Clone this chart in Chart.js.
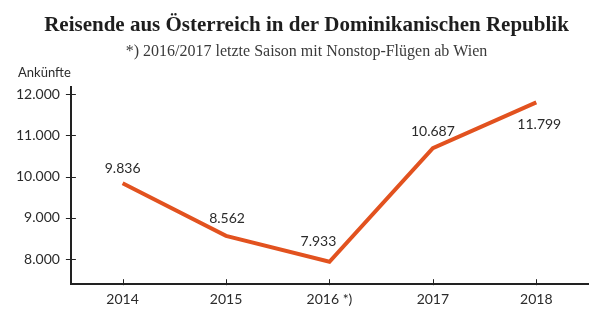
<!DOCTYPE html>
<html>
<head>
<meta charset="utf-8">
<script src="https://cdn.jsdelivr.net/npm/chart.js@4"></script>
<style>
    html, body { margin: 0; padding: 0; background: #fff; }
    #wrap { width: 613px; height: 330px; }
</style>
</head>
<body>
<div id="wrap"><canvas id="myChart" width="613" height="330"></canvas></div>
<script>
// data
const years = ["2014", "2015", "2016 *)", "2017", "2018"];
const arrivals = [9836, 8562, 7933, 10687, 11799];
const yTicks = [8000, 9000, 10000, 11000, 12000];

const titleText = "Reisende aus Österreich in der Dominikanischen Republik";
const subtitleText = "*) 2016/2017 letzte Saison mit Nonstop-Flügen ab Wien";
const yUnit = "Ankünfte";

const lineColor = "#e2521f";
const textColor = "#2b2b2b";
const sansFont = "Lato, 'Open Sans', sans-serif";
const serifFont = "'Liberation Serif', serif";

function formatNumber(v) {
    return String(v).replace(/\B(?=(\d{3})+(?!\d))/g, ".");
}

// headings (centred on the page, not on the plot), axis unit and tick marks crossing the axes
const axisDecor = {
    id: "axisDecor",
    afterDraw(chart) {
        const ctx = chart.ctx;
        const x = chart.scales.x;
        const y = chart.scales.y;
        ctx.save();
        ctx.strokeStyle = "#222";
        ctx.lineWidth = 1;
        ctx.beginPath();
        y.ticks.forEach((t, i) => {
            let py = Math.round(y.getPixelForTick(i)) + 0.5;
            ctx.moveTo(y.right - 5, py);
            ctx.lineTo(y.right + 5, py);
        });
        x.ticks.forEach((t, i) => {
            let px = Math.round(x.getPixelForTick(i)) + 0.5;
            ctx.moveTo(px, x.top - 5);
            ctx.lineTo(px, x.top + 1);
        });
        ctx.stroke();

        ctx.textBaseline = "middle";
        ctx.textAlign = "center";
        ctx.fillStyle = "#1e1e1e";
        ctx.font = "bold 21px " + serifFont;
        ctx.fillText(titleText, chart.width / 2, 26);
        ctx.fillStyle = "#3a3a3a";
        ctx.font = "16px " + serifFont;
        ctx.fillText(subtitleText, chart.width / 2, 52);

        ctx.fillStyle = textColor;
        ctx.font = "13px " + sansFont;
        ctx.textAlign = "left";
        ctx.fillText(yUnit, 18, 73);
        ctx.restore();
    }
};

// value labels next to each point
const valueLabels = {
    id: "valueLabels",
    afterDatasetsDraw(chart, args, opts) {
        const ctx = chart.ctx;
        const meta = chart.getDatasetMeta(0);
        ctx.save();
        ctx.fillStyle = textColor;
        ctx.font = "14px " + sansFont;
        ctx.textAlign = "center";
        ctx.textBaseline = "middle";
        meta.data.forEach((pt, i) => {
            let off = opts.offsets[i];
            ctx.fillText(formatNumber(arrivals[i]), pt.x + off[0], pt.y + off[1]);
        });
        ctx.restore();
    }
};

let ctx = document.getElementById("myChart").getContext("2d");
new Chart(ctx, {
    type: "line",
    data: {
        labels: years,
        datasets: [{
            data: arrivals,
            borderColor: lineColor,
            borderWidth: 4,
            borderJoinStyle: "miter",
            pointRadius: 0,
            tension: 0,
            fill: false
        }]
    },
    options: {
        responsive: false,
        animation: false,
        layout: {
            padding: { left: 5, right: 25, top: 87, bottom: 15 }
        },
        plugins: {
            legend: { display: false },
            tooltip: { enabled: false },
            title: { display: false },
            valueLabels: {
                offsets: [[0, -15], [1, -17], [-11, -20], [0, -17], [3, 22]]
            }
        },
        scales: {
            x: {
                type: "category",
                offset: true,
                grid: { display: false, drawTicks: false },
                border: { display: true, color: "#222", width: 2 },
                ticks: {
                    color: textColor,
                    font: { family: sansFont, size: 14 },
                    padding: 7,
                    maxRotation: 0
                }
            },
            y: {
                min: 7390,
                max: 12170,
                afterBuildTicks(scale) {
                    scale.ticks = yTicks.map(v => ({ value: v }));
                },
                grid: { display: false, drawTicks: false },
                border: { display: true, color: "#222", width: 2 },
                ticks: {
                    color: textColor,
                    font: { family: sansFont, size: 14 },
                    padding: 11,
                    callback: (v) => formatNumber(v)
                }
            }
        }
    },
    plugins: [axisDecor, valueLabels]
});
</script>
</body>
</html>
